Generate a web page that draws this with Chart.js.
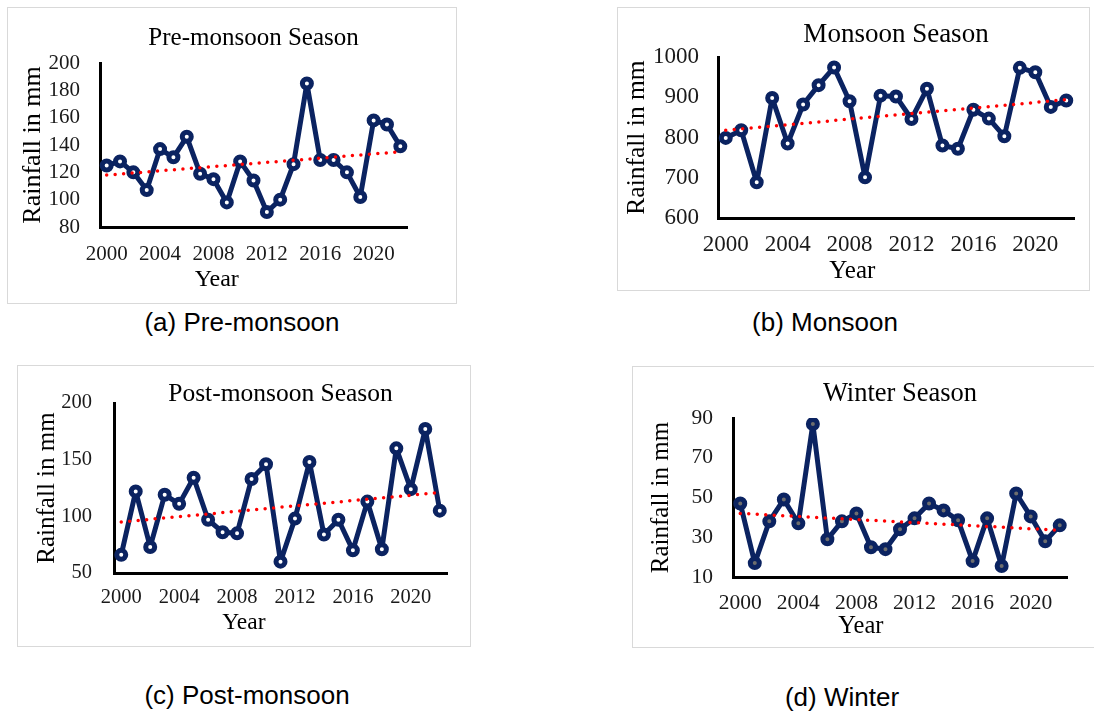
<!DOCTYPE html>
<html>
<head>
<meta charset="utf-8">
<script src="https://cdn.jsdelivr.net/npm/chart.js@4.4.1/dist/chart.umd.min.js"></script>
<style>
  body { margin: 0; background: #fff; width: 1094px; height: 713px; position: relative; overflow: hidden; }
  .box { position: absolute; border: 1px solid #d9d9d9; box-sizing: border-box; }
  canvas { position: absolute; }
  .cap { position: absolute; font-family: 'Liberation Sans', Arial, sans-serif; font-size: 26px; color: #000;
         transform: translate(-50%, -50%); white-space: nowrap; }
</style>
</head>
<body>
<script>
// years on the x axis, and the ones that get a label
const years = ['2000', '2001', '2002', '2003', '2004', '2005', '2006', '2007', '2008', '2009', '2010', '2011',
               '2012', '2013', '2014', '2015', '2016', '2017', '2018', '2019', '2020', '2021', '2022'];
const xTickYears = ['2000', '2004', '2008', '2012', '2016', '2020'];

// seasonal rainfall (mm)
const preMonsoon = [125, 128, 120, 107, 137, 131, 146, 119, 115, 98, 128, 114,
                    91, 100, 126, 185, 129, 129, 120, 102, 158, 155, 139];
const monsoon = [799, 818, 689, 898, 785, 882, 930, 974, 890, 701, 904, 902,
                 846, 921, 780, 772, 869, 847, 803, 973, 962, 876, 892];
const postMonsoon = [66, 122, 73, 119, 111, 134, 97, 86, 85, 133, 146, 60,
                     98, 148, 84, 97, 70, 113, 71, 160, 124, 177, 105];
const winter = [47, 17, 38, 49, 37, 87, 29, 38, 42, 25, 24, 34,
                39.5, 47, 43.5, 38.5, 18, 39.5, 15.5, 52, 40.5, 28, 36];

// linear trend, value at 2000 and at 2022
const preTrend = [118, 135];
const monsoonTrend = [818, 894];
const postTrend = [95, 121];
const winterTrend = [42, 33.5];

// y axis ranges: min, max, step
const preTicks = [80, 200, 20];
const monsoonTicks = [600, 1000, 100];
const postTicks = [50, 200, 50];
const winterTicks = [10, 90, 20];

const NAVY = '#0b2361';
const SERIF = "'Liberation Serif', 'Times New Roman', serif";
const LH = 0.5;

const panels = [
  { title: 'Pre-monsoon Season', caption: '(a) Pre-monsoon', values: preMonsoon, trend: preTrend, range: preTicks,
    x: 7, y: 7, w: 450, h: 297, ca: { left: 100, right: 407, top: 63, bottom: 227 },
    titleY: 38, titleSize: 25, yTitleX: 33, yTitleSize: 26, yTickRight: 80, tickSize: 21,
    xTickY: 254, yearY: 280, yearSize: 24, capX: 242, capY: 322, hole: '#ffffff' },
  { title: 'Monsoon Season', caption: '(b) Monsoon', values: monsoon, trend: monsoonTrend, range: monsoonTicks,
    x: 617, y: 7, w: 473, h: 284, ca: { left: 718, right: 1074, top: 57, bottom: 218 },
    titleY: 35, titleSize: 27, yTitleX: 637, yTitleSize: 25.5, yTickRight: 699, tickSize: 23,
    xTickY: 244, yearY: 271, yearSize: 25, capX: 825, capY: 322, hole: '#ffffff' },
  { title: 'Post-monsoon Season', caption: '(c) Post-monsoon', values: postMonsoon, trend: postTrend, range: postTicks,
    x: 17, y: 365, w: 454, h: 282, ca: { left: 114, right: 447, top: 403, bottom: 573 },
    titleY: 394, titleSize: 25.5, yTitleX: 47, yTitleSize: 25, yTickRight: 92, tickSize: 20.5,
    xTickY: 597, yearY: 623, yearSize: 23.5, capX: 247, capY: 695, hole: '#ffffff' },
  { title: 'Winter Season', caption: '(d) Winter', values: winter, trend: winterTrend, range: winterTicks,
    x: 632, y: 366, w: 463, h: 282, ca: { left: 733, right: 1067, top: 418, bottom: 577 },
    titleY: 394, titleSize: 26.5, yTitleX: 661, yTitleSize: 25, yTickRight: 713, tickSize: 21.5,
    xTickY: 603, yearY: 627, yearSize: 24.5, capX: 842, capY: 697, hole: '#6e6e6e' }
];

function buildPanel(p) {
  const box = document.createElement('div');
  box.className = 'box';
  Object.assign(box.style, { left: p.x + 'px', top: p.y + 'px', width: p.w + 'px', height: p.h + 'px' });
  document.body.appendChild(box);

  const cv = document.createElement('canvas');
  cv.width = p.w; cv.height = p.h;
  Object.assign(cv.style, { left: p.x + 'px', top: p.y + 'px', width: p.w + 'px', height: p.h + 'px' });
  document.body.appendChild(cv);

  const cap = document.createElement('div');
  cap.className = 'cap';
  cap.textContent = p.caption;
  Object.assign(cap.style, { left: p.capX + 'px', top: p.capY + 'px' });
  document.body.appendChild(cap);

  // turn the measured positions into paddings / box sizes
  const titlePadTop = p.titleY - p.y - p.titleSize * LH / 2;
  const titlePadBottom = p.ca.top - p.y - titlePadTop - p.titleSize * LH;
  const scaleLeft = p.yTitleX - p.yTitleSize * LH / 2;
  const yWidth = p.ca.left - scaleLeft;
  const subPadBottom = p.y + p.h - p.yearY - p.yearSize * LH / 2;
  const xHeight = p.yearY - p.yearSize * LH / 2 - p.ca.bottom;
  const xTickPad = p.xTickY - p.ca.bottom - 0.57 * p.tickSize;

  new Chart(cv.getContext('2d'), {
    type: 'line',
    data: {
      labels: years,
      datasets: [{
        label: 'Trend',
        data: [{ x: years[0], y: p.trend[0] }, { x: years[years.length - 1], y: p.trend[1] }],
        borderColor: '#ff0000',
        borderWidth: 3.5,
        borderDash: [0, 8.5],
        borderCapStyle: 'round',
        pointRadius: 0,
        fill: false,
        order: 0
      }, {
        label: p.title,
        data: p.values,
        borderColor: NAVY,
        borderWidth: 5,
        borderJoinStyle: 'round',
        pointRadius: 4.5,
        pointBorderWidth: 5,
        pointBorderColor: NAVY,
        pointBackgroundColor: p.hole,
        tension: 0,
        fill: false,
        order: 1
      }]
    },
    options: {
      responsive: false,
      animation: false,
      devicePixelRatio: 1,
      layout: { padding: { top: 0, bottom: 0, left: scaleLeft - p.x, right: p.x + p.w - p.ca.right } },
      plugins: {
        legend: { display: false },
        tooltip: { enabled: false },
        title: {
          display: true, text: p.title, fullSize: false, color: '#000',
          font: { family: SERIF, size: p.titleSize, weight: 'normal', lineHeight: LH },
          padding: { top: titlePadTop, bottom: titlePadBottom }
        },
        subtitle: {
          display: true, position: 'bottom', text: 'Year', color: '#000',
          font: { family: SERIF, size: p.yearSize, weight: 'normal', lineHeight: LH },
          padding: { top: 0, bottom: subPadBottom }
        }
      },
      scales: {
        x: {
          type: 'category',
          offset: true,
          grid: { display: false, drawTicks: false },
          border: { display: true, color: '#000', width: 3 },
          ticks: {
            autoSkip: false, maxRotation: 0, minRotation: 0, padding: xTickPad, color: '#1a1a1a',
            font: { family: SERIF, size: p.tickSize },
            callback: function (v) {
              const lab = this.getLabelForValue(v);
              return xTickYears.includes(lab) ? lab : '';
            }
          },
          afterFit: s => { s.height = xHeight; }
        },
        y: {
          min: p.range[0], max: p.range[1],
          grid: { display: false, drawTicks: false },
          border: { display: true, color: '#000', width: 3 },
          ticks: { stepSize: p.range[2], autoSkip: false, padding: p.ca.left - p.yTickRight, color: '#1a1a1a',
                   font: { family: SERIF, size: p.tickSize }, callback: v => String(v) },
          title: { display: true, text: 'Rainfall in mm', color: '#000', padding: 0,
                   font: { family: SERIF, size: p.yTitleSize, lineHeight: LH } },
          afterFit: s => { s.width = yWidth; }
        }
      }
    }
  });
}

panels.forEach(buildPanel);
</script>
</body>
</html>
